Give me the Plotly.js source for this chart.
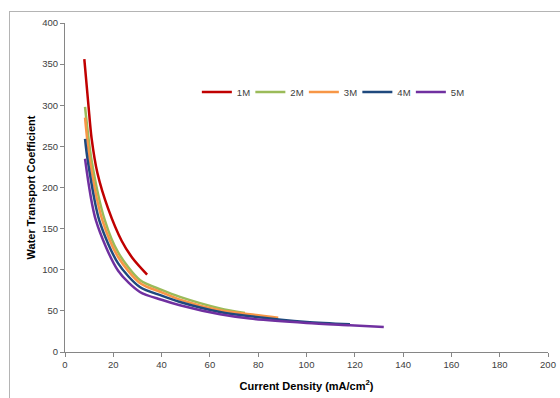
<!DOCTYPE html>
<html>
<head>
<meta charset="utf-8">
<script src="https://cdn.plot.ly/plotly-3.0.1.min.js"></script>
<style>
  html, body { margin: 0; padding: 0; background: #fff; }
  #wrap { position: relative; width: 560px; height: 398px; overflow: hidden; }
  #chart { width: 560px; height: 398px; }
  #frame { position: absolute; left: 9px; top: 11px; width: 600px; height: 420px;
           border-top: 1.5px solid #b4b4b4; border-left: 1.5px solid #b4b4b4; pointer-events: none; }
</style>
</head>
<body>
<div id="wrap">
  <div id="chart"></div>
  <div id="frame"></div>
</div>
<script>
// Current density (mA/cm^2) and water transport coefficient per concentration
const seriesNames = ['1M', '2M', '3M', '4M', '5M'];
const seriesColors = ['#C00000', '#9BBB59', '#F79646', '#1F497D', '#7030A0'];

const x1M = [8.0, 9.7, 11.0, 13.4, 17.9, 23.5, 28.0, 34.0];
const y1M = [356, 300, 260, 218, 174, 135, 114, 94];

const x2M = [8.3, 11.0, 16.5, 22.0, 31.0, 40.0, 47.6, 64.2, 74.5];
const y2M = [298, 233, 160, 121, 87.5, 75.5, 67, 53, 47.5];

const x3M = [8.3, 10.3, 15.5, 22.0, 31.0, 40.0, 47.6, 64.2, 76.6, 88.3];
const y3M = [285, 233, 160, 115.5, 84, 72.5, 63.7, 50.7, 45.8, 41.8];

const x4M = [8.3, 9.4, 14.2, 22.0, 31.0, 40.0, 47.6, 64.2, 76.6, 100.0, 118.0];
const y4M = [259, 233, 160, 107.7, 79, 68.5, 60.8, 48.6, 43.4, 36.5, 33.7];

const x5M = [8.3, 12.8, 22.0, 31.0, 40.0, 47.6, 64.2, 76.6, 100.0, 118.0, 132.0];
const y5M = [235, 160, 98.8, 73, 63.5, 56.8, 45.8, 40.6, 35.3, 32.5, 30.4];

const xs = [x1M, x2M, x3M, x4M, x5M];
const ys = [y1M, y2M, y3M, y4M, y5M];

const xTicks = [0, 20, 40, 60, 80, 100, 120, 140, 160, 180, 200];
const yTicks = [0, 50, 100, 150, 200, 250, 300, 350, 400];

const traces = seriesNames.map((n, i) => ({
  x: xs[i], y: ys[i], name: n, type: 'scatter', mode: 'lines',
  line: { color: seriesColors[i], width: 2.5, shape: 'spline', smoothing: 0.8 }
}));

const fontFam = 'Liberation Sans, Arial, sans-serif';
const axisCommon = {
  showgrid: false, zeroline: false, showline: true, linecolor: '#868686', linewidth: 1,
  ticks: 'outside', ticklen: 4, tickcolor: '#868686', tickwidth: 1,
  tickfont: { family: fontFam, size: 9.5, color: '#404040' }
};

const layout = {
  width: 560, height: 398,
  margin: { l: 65, r: 12, t: 23, b: 46 },
  paper_bgcolor: '#fff', plot_bgcolor: '#fff',
  showlegend: true,
  legend: {
    orientation: 'h', x: 0.273, xanchor: 'left', y: 0.79, yanchor: 'middle',
    font: { family: fontFam, size: 9.5, color: '#404040' },
    entrywidth: 8.5, entrywidthmode: 'pixels', bgcolor: 'rgba(0,0,0,0)'
  },
  xaxis: Object.assign({}, axisCommon, {
    range: [0, 200], tickvals: xTicks, ticktext: xTicks.map(String),
    title: { text: '<b>Current Density (mA/cm<sup>2</sup>)</b>', font: { family: fontFam, size: 11, color: '#000' }, standoff: 12 }
  }),
  yaxis: Object.assign({}, axisCommon, {
    range: [0, 400], tickvals: yTicks, ticktext: yTicks.map(String),
    title: { text: '<b>Water Transport Coefficient</b>', font: { family: fontFam, size: 11, color: '#000' }, standoff: 4 }
  })
};

Plotly.newPlot('chart', traces, layout, { displayModeBar: false, staticPlot: true });
</script>
</body>
</html>
